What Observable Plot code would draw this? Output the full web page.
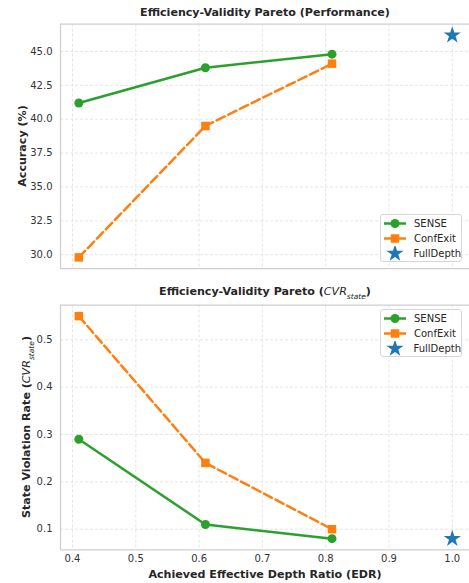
<!DOCTYPE html>
<html>
<head>
<meta charset="utf-8">
<script src="https://cdn.jsdelivr.net/npm/d3@7"></script>
<script src="https://cdn.jsdelivr.net/npm/@observablehq/plot@0.6"></script>
<style>
  html, body { margin: 0; padding: 0; background: #fff; }
  #root { position: relative; width: 469px; height: 583px; overflow: hidden; font-family: "DejaVu Sans", sans-serif; color: #262626; }
  .abs { position: absolute; }
  .title { font-weight: bold; font-size: 11.1px; white-space: nowrap; transform: translate(-50%, -50%); }
  .ylab { font-weight: bold; font-size: 11.1px; white-space: nowrap; transform: translate(-50%, -50%) rotate(-90deg); }
  .legend { background: rgba(255,255,255,0.85); border: 1px solid #d6d6d6; border-radius: 3px; box-sizing: border-box; padding: 1px 0 0 2px; }
  .legend .row { display: flex; align-items: center; height: 15px; font-size: 10px; color: #262626; }
  .legend svg { margin-right: 7px; }
</style>
</head>
<body>
<div id="root"></div>
<script>
// ---- data ----
const seriesNames = ["SENSE", "ConfExit", "FullDepth"];
const seriesColors = ["#2ca02c", "#ff7f0e", "#1f77b4"];
const edr = [0.41, 0.61, 0.81];
const senseAcc = [41.2, 43.8, 44.8];
const confAcc = [29.8, 39.5, 44.1];
const fullEdr = [1.0];
const fullAcc = [46.2];
const senseCvr = [0.29, 0.11, 0.08];
const confCvr = [0.55, 0.24, 0.10];
const fullCvr = [0.08];
const xTicks = [0.4, 0.5, 0.6, 0.7, 0.8, 0.9, 1.0];
const accTicks = [30.0, 32.5, 35.0, 37.5, 40.0, 42.5, 45.0];
const cvrTicks = [0.1, 0.2, 0.3, 0.4, 0.5];

const root = document.getElementById("root");
const xDomain = [0.38104, 1.0272];
const gridColor = "#dedede";
const spineColor = "#cfcfcf";

function panel({yDomain, yTicks, yFmt, sense, conf, full, height, mt, mb, showX}) {
  const sData = edr.map((x, i) => ({x, y: sense[i]}));
  const cData = edr.map((x, i) => ({x, y: conf[i]}));
  const fData = fullEdr.map((x, i) => ({x, y: full[i]}));
  return Plot.plot({
    width: 469, height, marginTop: mt, marginBottom: mb, marginLeft: 60, marginRight: 0,
    style: {fontFamily: "DejaVu Sans", fontSize: "10px", color: "#333", background: "transparent"},
    x: {domain: xDomain},
    y: {domain: yDomain},
    marks: [
      Plot.gridX(xTicks, {stroke: gridColor, strokeOpacity: 1, strokeDasharray: "3,2", strokeWidth: 0.8}),
      Plot.gridY(yTicks, {stroke: gridColor, strokeOpacity: 1, strokeDasharray: "3,2", strokeWidth: 0.8}),
      Plot.ruleX([xDomain[0]], {stroke: spineColor, strokeWidth: 1.25}),
      Plot.ruleY([yDomain[0], yDomain[1]], {stroke: spineColor, strokeWidth: 1.25}),
      Plot.axisY(yTicks, {tickSize: 0, tickPadding: 8, tickFormat: yFmt, label: null, fill: "#333"}),
      showX ? Plot.axisX(xTicks, {tickSize: 0, tickPadding: 5, tickFormat: d3.format(".1f"), label: null, fill: "#333"})
            : Plot.axisX([], {label: null}),
      Plot.line(sData, {x: "x", y: "y", stroke: seriesColors[0], strokeWidth: 2.5}),
      Plot.dot(sData, {x: "x", y: "y", symbol: "circle", r: 4.5, fill: seriesColors[0], stroke: "none"}),
      Plot.line(cData, {x: "x", y: "y", stroke: seriesColors[1], strokeWidth: 2.5, strokeDasharray: "9,4"}),
      Plot.dot(cData, {x: "x", y: "y", symbol: "square", r: 4.8, fill: seriesColors[1], stroke: "none"}),
      Plot.dot(fData, {x: "x", y: "y", symbol: "star", r: 5.4, fill: seriesColors[2], stroke: "none"})
    ]
  });
}

function place(el, left, topPx) {
  el.style.position = "absolute";
  el.style.left = left + "px";
  el.style.top = topPx + "px";
  root.appendChild(el);
}

const topPanel = panel({yDomain: [28.98, 47.02], yTicks: accTicks, yFmt: d3.format(".1f"),
  sense: senseAcc, conf: confAcc, full: fullAcc, height: 280, mt: 23.6, mb: 12, showX: false});
place(topPanel, 0, 0);
const botPanel = panel({yDomain: [0.0565, 0.5735], yTicks: cvrTicks, yFmt: d3.format(".1f"),
  sense: senseCvr, conf: confCvr, full: fullCvr, height: 303, mt: 24.5, mb: 33.7, showX: true});
place(botPanel, 0, 280);

function html(cls, text, left, topPx) {
  const d = document.createElement("div");
  d.className = "abs " + cls;
  d.innerHTML = text;
  d.style.left = left + "px";
  d.style.top = topPx + "px";
  root.appendChild(d);
  return d;
}

html("title", "Efficiency-Validity Pareto (Performance)", 265, 12);
html("title", "Efficiency-Validity Pareto (<span style='font-weight:normal;font-style:italic'>CVR</span><sub style='font-weight:normal;font-style:italic;font-size:7.5px'>state</sub>)", 265, 293);
html("title", "Achieved Effective Depth Ratio (EDR)", 265, 574);
html("ylab", "Accuracy (%)", 21.5, 146);
html("ylab", "State Violation Rate (<span style='font-weight:normal;font-style:italic'>CVR</span><sub style='font-weight:normal;font-style:italic;font-size:7.5px'>state</sub>)", 28, 427);

function legend(left, topPx) {
  const d = document.createElement("div");
  d.className = "abs legend";
  d.style.left = left + "px";
  d.style.top = topPx + "px";
  d.style.width = "82px";
  d.style.height = "48px";
  const syms = ["circle", "square", "star"];
  const symR = [4.5, 4.8, 5.4];
  seriesNames.forEach((name, i) => {
    const row = document.createElement("div");
    row.className = "row";
    const sw = d3.create("svg").attr("width", 24).attr("height", 15);
    if (i < 2) sw.append("line").attr("x1", 1).attr("x2", 23).attr("y1", 7.5).attr("y2", 7.5)
      .attr("stroke", seriesColors[i]).attr("stroke-width", 2.5);
    const symType = {circle: d3.symbolCircle, square: d3.symbolSquare, star: d3.symbolStar}[syms[i]];
    sw.append("path").attr("transform", "translate(12,7.5)")
      .attr("d", d3.symbol(symType, Math.PI * symR[i] * symR[i])())
      .attr("fill", seriesColors[i]);
    row.appendChild(sw.node());
    const t = document.createElement("span");
    t.textContent = name;
    row.appendChild(t);
    d.appendChild(row);
  });
  root.appendChild(d);
}
legend(380, 214);
legend(380, 309);
</script>
</body>
</html>
